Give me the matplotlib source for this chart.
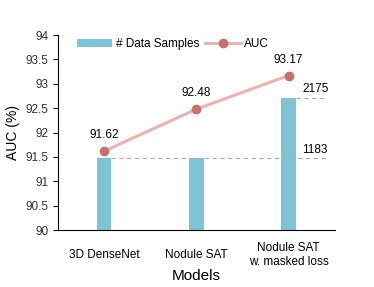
import numpy as np
import matplotlib

matplotlib.use("Agg")
import matplotlib.pyplot as plt

plt.rcParams["font.family"] = ["Liberation Sans", "DejaVu Sans"]

models = ["3D DenseNet", "Nodule SAT", "Nodule SAT\nw. masked loss"]
auc = [91.62, 92.48, 93.17]
n_samples = [1183, 1183, 2175]

bar_color = "#7fc4d6"
line_color = "#e8b4b0"
marker_color = "#c9706b"


def main():
    fig, ax = plt.subplots(figsize=(3.74, 2.87), dpi=100)
    fig.subplots_adjust(left=0.155, right=0.895, top=0.878, bottom=0.198)
    x = np.arange(len(models))

    ax2 = ax.twinx()
    bars = ax2.bar(x, n_samples, width=0.16, color=bar_color, zorder=1,
                   label="# Data Samples")
    ax2.set_ylim(0, 3217)
    ax2.set_xlim(-0.5, 2.5)
    ax2.axis("off")

    # dashed reference lines for sample counts
    ax2.hlines(n_samples[0], x[0] + 0.08, 2.4, colors="#aaaaaa",
               linestyles=(0, (4, 3)), linewidth=0.8)
    ax2.hlines(n_samples[2], x[2] + 0.08, 2.4, colors="#aaaaaa",
               linestyles=(0, (4, 3)), linewidth=0.8)
    for val in sorted(set(n_samples)):
        ax2.annotate(str(val), (2.15, val), xytext=(0, 2),
                     textcoords="offset points", ha="left", va="bottom",
                     fontsize=8.5)

    ax.set_zorder(ax2.get_zorder() + 1)
    ax.patch.set_visible(False)
    line, = ax.plot(x, auc, color=line_color, linewidth=2.2, marker="o",
                    markersize=6, markerfacecolor=marker_color,
                    markeredgecolor=marker_color, label="AUC")
    for xi, v in zip(x, auc):
        ax.annotate(f"{v:.2f}", (xi, v), xytext=(0, 7),
                    textcoords="offset points", ha="center", va="bottom",
                    fontsize=8.5)

    ax.set_xlim(-0.5, 2.5)
    ax.set_ylim(90, 94)
    ax.set_yticks(np.arange(90, 94.01, 0.5))
    ax.set_yticklabels([f"{t:g}" for t in np.arange(90, 94.01, 0.5)])
    ax.set_xticks(x)
    ax.set_xticklabels(models, fontsize=8.5, va="center")
    ax.tick_params(axis="y", labelsize=8.5, labelcolor="#333333")
    ax.tick_params(axis="x", length=0, pad=18)
    ax.spines["top"].set_visible(False)
    ax.spines["right"].set_visible(False)
    ax.set_ylabel("AUC (%)", fontsize=10)
    ax.set_xlabel("Models", fontsize=11, labelpad=1)

    ax.legend([bars, line], ["# Data Samples", "AUC"], loc="upper left",
              bbox_to_anchor=(0.03, 1.04), ncol=2, frameon=False,
              fontsize=8.5, handlelength=3, columnspacing=0.5,
              handletextpad=0.3)

    plt.savefig("out.png", dpi=100)


if __name__ == "__main__":
    main()
